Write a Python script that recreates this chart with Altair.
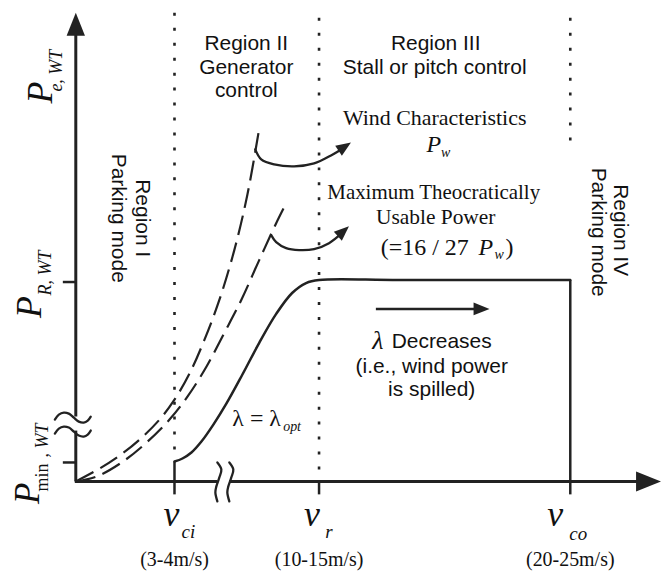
import altair as alt
import pandas as pd

# ---------------- diagram frame (schematic units) ----------------
X_DOMAIN = [8, 663]
Y_DOMAIN = [573, 8]
INK = "#222222"

# ---------------- straight solid strokes: (name, xs, ys, width) ----------------
straight = [
    ("y_axis_top", [76, 76], [30, 417], 3),
    ("y_axis_bottom", [76, 76], [431, 482], 3),
    ("x_axis_left", [75, 218], [482, 482], 3),
    ("x_axis_right", [230, 645], [482, 482], 3),
    ("tick_PR", [63, 76], [282, 282], 2.5),
    ("tick_Pmin", [63, 76], [463, 463], 2.5),
    ("vci_solid", [175, 175], [462, 495], 2.5),
    ("vr_tick", [320, 320], [482, 495], 2.5),
    ("vco_solid", [572, 572], [280, 495], 2.5),
    ("lambda_arrow", [377, 480], [309, 309], 2.5),
]

# ---------------- power curve (lambda = lambda_opt) ----------------
power_x = [175, 183, 192, 202, 214, 227, 243, 260, 277, 293, 307, 320, 400, 572]
power_y = [462, 459, 453, 442, 425, 404, 375, 343, 314, 293, 283, 280, 280, 280]

# ---------------- wind characteristic P_w (dashed) ----------------
pw_x = [76, 100, 120, 140, 160, 175, 190, 205, 220, 235, 248, 260]
pw_y = [482, 469, 456, 440, 420, 400, 374, 340, 300, 250, 195, 128]

# ---------------- max usable power 16/27 P_w (dashed) ----------------
pmax_x = [76, 97, 122, 147, 170, 188, 207, 225, 242, 260, 277, 287]
pmax_y = [482, 477, 463, 443, 420, 397, 367, 333, 300, 260, 223, 203]

# ---------------- curved pointer arrows ----------------
arc1_x = [256, 262, 275, 295, 315, 332, 347]
arc1_y = [149, 159, 164, 166, 163, 155, 146]
arc2_x = [272, 277, 287, 300, 315, 330, 344]
arc2_y = [235, 242, 248, 250, 249, 243, 232]

# ---------------- axis break marks ----------------
ybrk_x = [55, 59, 64, 69, 74, 79, 84, 88, 91]
ybrk1_y = [420, 415, 413, 414, 418, 422, 423, 421, 417]
ybrk2_y = [434, 429, 427, 428, 432, 436, 437, 435, 431]
xbrk1_x = [218, 222, 220, 217, 216, 218]
xbrk2_x = [230, 234, 232, 229, 228, 230]
xbrk_y = [463, 470, 478, 487, 493, 502]

# ---------------- dotted region boundaries ----------------
dotted = [
    ("v_ci", [175, 175], [12, 458]),
    ("v_r", [320, 320], [17, 478]),
    ("v_co", [572, 572], [17, 140]),
]

# ---------------- arrow heads: (x, y, angle, size) ----------------
heads = [
    (76, 12, 0, 529),
    (663, 482, 90, 625),
    (352, 142, 56, 225),
    (350, 226, 48, 225),
    (491, 309, 90, 256),
]


def series_df(items):
    rows = []
    for name, xs, ys, w in items:
        for i, (a, b) in enumerate(zip(xs, ys)):
            rows.append({"s": name, "i": i, "x": a, "y": b, "w": w})
    return pd.DataFrame(rows)


X = lambda: alt.X("x:Q", scale=alt.Scale(domain=X_DOMAIN, nice=False, zero=False), axis=None)
Y = lambda: alt.Y("y:Q", scale=alt.Scale(domain=Y_DOMAIN, nice=False, zero=False), axis=None)


def line_layer(df, **mark):
    return alt.Chart(df).mark_line(color=INK, **mark).encode(
        x=X(), y=Y(), detail="s:N", order="i:Q",
        strokeWidth=alt.StrokeWidth("w:Q", scale=None),
    )


layers = []
layers.append(line_layer(series_df(straight), strokeCap="butt"))
layers.append(line_layer(series_df([
    ("power", power_x, power_y, 2.5),
    ("arc1", arc1_x, arc1_y, 2.3),
    ("arc2", arc2_x, arc2_y, 2.3),
    ("yb1", ybrk_x, ybrk1_y, 2.3),
    ("yb2", ybrk_x, ybrk2_y, 2.3),
    ("xb1", xbrk1_x, xbrk_y, 2.3),
    ("xb2", xbrk2_x, xbrk_y, 2.3),
]), interpolate="catmull-rom", strokeCap="round", strokeJoin="round"))
layers.append(line_layer(series_df([
    ("pw", pw_x, pw_y, 2.2),
    ("pmax", pmax_x, pmax_y, 2.2),
]), interpolate="catmull-rom", strokeDash=[20, 8], strokeCap="butt"))
layers.append(line_layer(series_df([(n, xs, ys, 2.6) for n, xs, ys in dotted]),
                         strokeDash=[3, 12], strokeCap="butt"))

heads_df = pd.DataFrame(heads, columns=["x", "y", "a", "sz"])
layers.append(alt.Chart(heads_df).mark_point(
    shape="M0,0L0.8,2L-0.8,2Z", filled=True, color=INK, opacity=1, strokeWidth=0
).encode(x=X(), y=Y(), angle=alt.Angle("a:Q", scale=None), size=alt.Size("sz:Q", scale=None)))

# ---------------- texts: (x, y, text, size, angle) grouped by style ----------------
SANS = "Liberation Sans"
SERIF = "Liberation Serif"
texts = {
    (SANS, "normal", "center", "middle"): [
        (247, 43, "Region II", 21, 0),
        (247, 67, "Generator", 21, 0),
        (247, 90, "control", 21, 0),
        (437, 43, "Region III", 21, 0),
        (436, 67, "Stall or pitch control", 21, 0),
        (443, 342, "Decreases", 21, 0),
        (433, 367, "(i.e., wind power", 21, 0),
        (433, 390, "is spilled)", 21, 0),
        (142, 218, "Region I", 21, 90),
        (118, 218, "Parking mode", 21, 90),
        (622, 230, "Region IV", 21, 90),
        (600, 232, "Parking mode", 21, 90),
    ],
    (SERIF, "normal", "center", "middle"): [
        (436, 117, "Wind Characteristics", 22, 0),
        (435, 193, "Maximum Theocratically", 21, 0),
        (437, 218, "Usable Power", 21.5, 0),
        (175, 561, "(3-4m/s)", 20, 0),
        (320, 561, "(10-15m/s)", 20, 0),
        (572, 561, "(20-25m/s)", 20, 0),
    ],
    (SERIF, "italic", "center", "middle"): [
        (379, 341, "λ", 26, 0),
    ],
    (SERIF, "italic", "center", "alphabetic"): [
        (172, 527, "v", 36, 0),
        (313, 527, "v", 36, 0),
        (557, 527, "v", 36, 0),
        (189, 539, "ci", 19, 0),
        (330, 539, "r", 19, 0),
        (580, 541, "co", 19, 0),
        (435, 152, "P", 24, 0),
        (447, 157, "w", 14, 0),
        (52, 92, "P", 36, 270),
        (62, 70, "e, WT", 18, 270),
        (41, 307, "P", 36, 270),
        (51, 273, "R, WT", 18, 270),
        (39, 494, "P", 35, 270),
        (48, 441, ", WT", 18, 270),
    ],
    (SERIF, "normal", "center", "alphabetic"): [
        (48, 478, "min", 18, 270),
    ],
    (SERIF, "normal", "left", "alphabetic"): [
        (382, 255, "(=16 / 27", 24, 0),
        (507, 255, ")", 24, 0),
        (233, 426, "λ = λ", 24, 0),
    ],
    (SERIF, "italic", "left", "alphabetic"): [
        (480, 255, "P", 24, 0),
        (496, 259, "w", 14, 0),
        (284, 431, "opt", 14, 0),
    ],
}

for (font, style, align, baseline), rows in texts.items():
    df = pd.DataFrame(rows, columns=["x", "y", "t", "fs", "ang"])
    layers.append(alt.Chart(df).mark_text(
        font=font, fontStyle=style, align=align, baseline=baseline, color="#111111"
    ).encode(
        x=X(), y=Y(), text="t:N",
        size=alt.Size("fs:Q", scale=None),
        angle=alt.Angle("ang:Q", scale=None),
    ))

chart = alt.layer(*layers).properties(
    width=655, height=565, padding=0,
    autosize=alt.AutoSizeParams(type="none"),
    background="white",
).configure_view(stroke=None)

chart.save("out.html", embed_options={"renderer": "svg", "actions": False})
